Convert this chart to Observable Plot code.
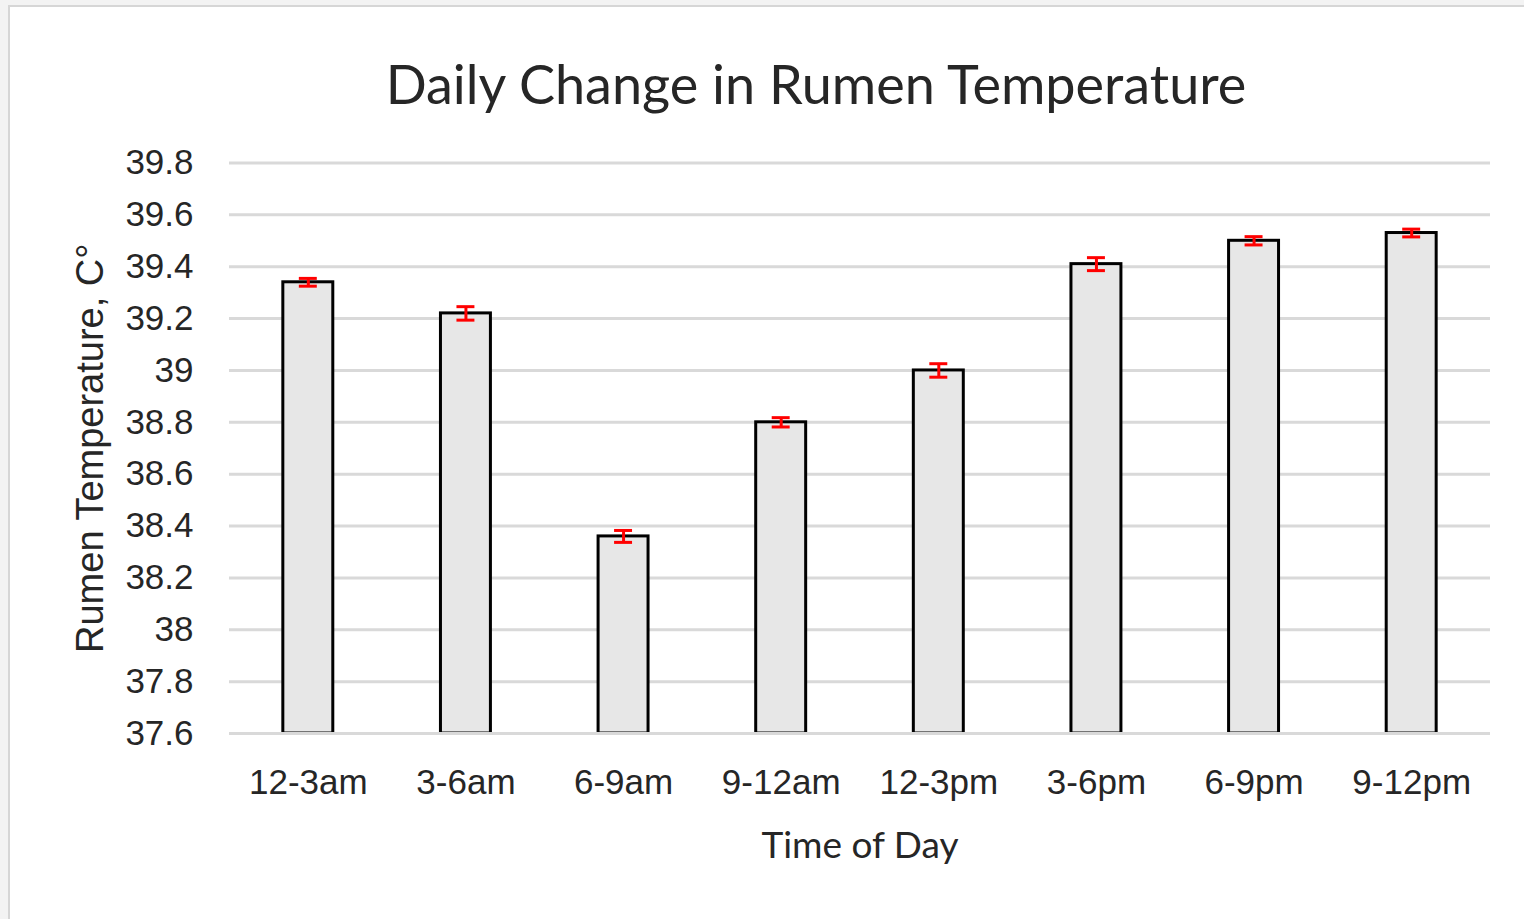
<!DOCTYPE html>
<html>
<head>
<meta charset="utf-8">
<script src="https://cdn.jsdelivr.net/npm/d3@7"></script>
<script src="https://cdn.jsdelivr.net/npm/@observablehq/plot@0.6"></script>
<style>
  html, body { margin: 0; padding: 0; background: #f3f3f3; width: 1524px; height: 919px; overflow: hidden; }
  #frame { position: absolute; left: 8px; top: 5px; width: 1516px; height: 914px; background: #fff;
           border-left: 2px solid #d6d6d6; border-top: 2px solid #d6d6d6; }
  #title { position: relative; height: 123px; width: 1514px; }
  #title span { position: absolute; left: 806px; top: 47px; transform: translateX(-50%); white-space: nowrap;
           font-family: Lato, "Open Sans", sans-serif; font-size: 54px; color: #262626; line-height: 60px; }
  svg { display: block; }
</style>
</head>
<body>
<div id="frame">
  <div id="title"><span>Daily Change in Rumen Temperature</span></div>
  <div id="chart"></div>
</div>
<script>
const categories = ["12-3am", "3-6am", "6-9am", "9-12am", "12-3pm", "3-6pm", "6-9pm", "9-12pm"];
const means = [39.34, 39.22, 38.36, 38.80, 39.00, 39.41, 39.50, 39.53];
const errors = [0.015, 0.026, 0.023, 0.018, 0.026, 0.025, 0.016, 0.015];
const yTicks = [37.6, 37.8, 38, 38.2, 38.4, 38.6, 38.8, 39, 39.2, 39.4, 39.6, 39.8];
const xLabel = "Time of Day";
const yLabel = "Rumen Temperature, C°";

const data = categories.map((c, i) => ({cat: c, mean: means[i], err: errors[i]}));

const tickFont = "Liberation Sans, Arial, sans-serif";

const chart = Plot.plot({
  width: 1514,
  height: 789,
  marginTop: 32.5,
  marginBottom: 186,
  marginLeft: 219,
  marginRight: 34,
  style: {background: "#fff", overflow: "visible"},
  x: {domain: categories, paddingInner: 0.683, paddingOuter: 0.3415, align: 0.5, round: false, axis: null},
  y: {domain: [37.6, 39.8], axis: null},
  marks: [
    Plot.ruleY(yTicks, {stroke: "#d9d9d9", strokeWidth: 3}),
    Plot.barY(data, {x: "cat", y1: 37.6, y2: "mean", fill: "#e7e7e7", stroke: "#000", strokeWidth: 3}),
    Plot.ruleY([37.6], {stroke: "#d9d9d9", strokeWidth: 3}),
    Plot.ruleX(data, {x: "cat", y1: d => d.mean - d.err, y2: d => d.mean + d.err, stroke: "#ff0000", strokeWidth: 3}),
    Plot.tickY(data, {x: "cat", y: d => d.mean - d.err, stroke: "#ff0000", strokeWidth: 3, inset: 16}),
    Plot.tickY(data, {x: "cat", y: d => d.mean + d.err, stroke: "#ff0000", strokeWidth: 3, inset: 16}),
    Plot.axisY({ticks: yTicks, tickSize: 0, tickPadding: 36, tickFormat: d => String(+d.toFixed(1)),
      fontSize: 35, fontFamily: tickFont, fill: "#262626", label: null}),
    Plot.axisX({tickSize: 0, tickPadding: 36, fontSize: 35, fontFamily: tickFont, fill: "#262626", label: null}),
    Plot.text([xLabel], {frameAnchor: "bottom", dy: 124, fontSize: 37, fontFamily: "Lato, sans-serif", fill: "#262626"}),
    Plot.text([yLabel], {frameAnchor: "left", dx: -139, rotate: -90, textAnchor: "middle", fontSize: 38, fontFamily: tickFont, fill: "#262626"})
  ]
});
document.getElementById("chart").appendChild(chart);
</script>
</body>
</html>
